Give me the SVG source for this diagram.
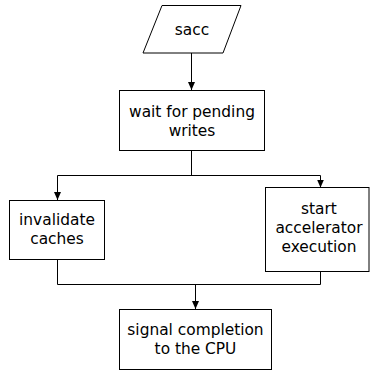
<svg xmlns="http://www.w3.org/2000/svg" width="370" height="374" viewBox="0 0 370 374">
  <style>
    .shape { fill: #ffffff; stroke: #000000; stroke-width: 1; }
    .label { font-family: "DejaVu Sans", "Liberation Sans", sans-serif; font-size: 15.4px; fill: #000000; text-anchor: middle; }
    .wire { fill: none; stroke: #000000; stroke-width: 1; }
  </style>
  <defs>
    <marker id="arrow" viewBox="0 0 8 8" refX="8" refY="4" markerWidth="8" markerHeight="8" markerUnits="userSpaceOnUse" orient="auto">
      <path d="M0,0.5 L8,4 L0,7.5 Z" fill="#000000"/>
    </marker>
  </defs>
  <rect width="370" height="374" fill="#ffffff"/>

  <g id="connectors">
    <line class="wire" x1="191.5" y1="53" x2="191.5" y2="90" marker-end="url(#arrow)"/>
    <polyline class="wire" points="191.5,151 191.5,175.5"/>
    <polyline class="wire" points="57.5,175.5 320.5,175.5"/>
    <line class="wire" x1="57.5" y1="175.5" x2="57.5" y2="200" marker-end="url(#arrow)"/>
    <line class="wire" x1="320.5" y1="175.5" x2="320.5" y2="187.5" marker-end="url(#arrow)"/>
    <polyline class="wire" points="57.5,260 57.5,284.5 320.5,284.5 320.5,272"/>
    <line class="wire" x1="195.5" y1="284.5" x2="195.5" y2="309" marker-end="url(#arrow)"/>
  </g>

  <g id="sacc">
    <polygon class="shape" points="162,5.5 241,5.5 223,53 143,53"/>
    <text class="label" x="192" y="35">sacc</text>
  </g>

  <g id="wait">
    <rect class="shape" x="119.5" y="90.5" width="145" height="60"/>
    <text class="label" x="192" y="116.5">wait for pending</text>
    <text class="label" x="192" y="135.5">writes</text>
  </g>

  <g id="invalidate">
    <rect class="shape" x="9.5" y="200.5" width="95" height="59"/>
    <text class="label" x="57" y="225">invalidate</text>
    <text class="label" x="57" y="244">caches</text>
  </g>

  <g id="start">
    <rect class="shape" x="265.5" y="187.5" width="103.5" height="84"/>
    <text class="label" x="319" y="213.5">start</text>
    <text class="label" x="319" y="232.5">accelerator</text>
    <text class="label" x="319" y="251.5">execution</text>
  </g>

  <g id="signal">
    <rect class="shape" x="119.5" y="309.5" width="152" height="60"/>
    <text class="label" x="195.5" y="334.5">signal completion</text>
    <text class="label" x="195.5" y="353.5">to the CPU</text>
  </g>
</svg>
